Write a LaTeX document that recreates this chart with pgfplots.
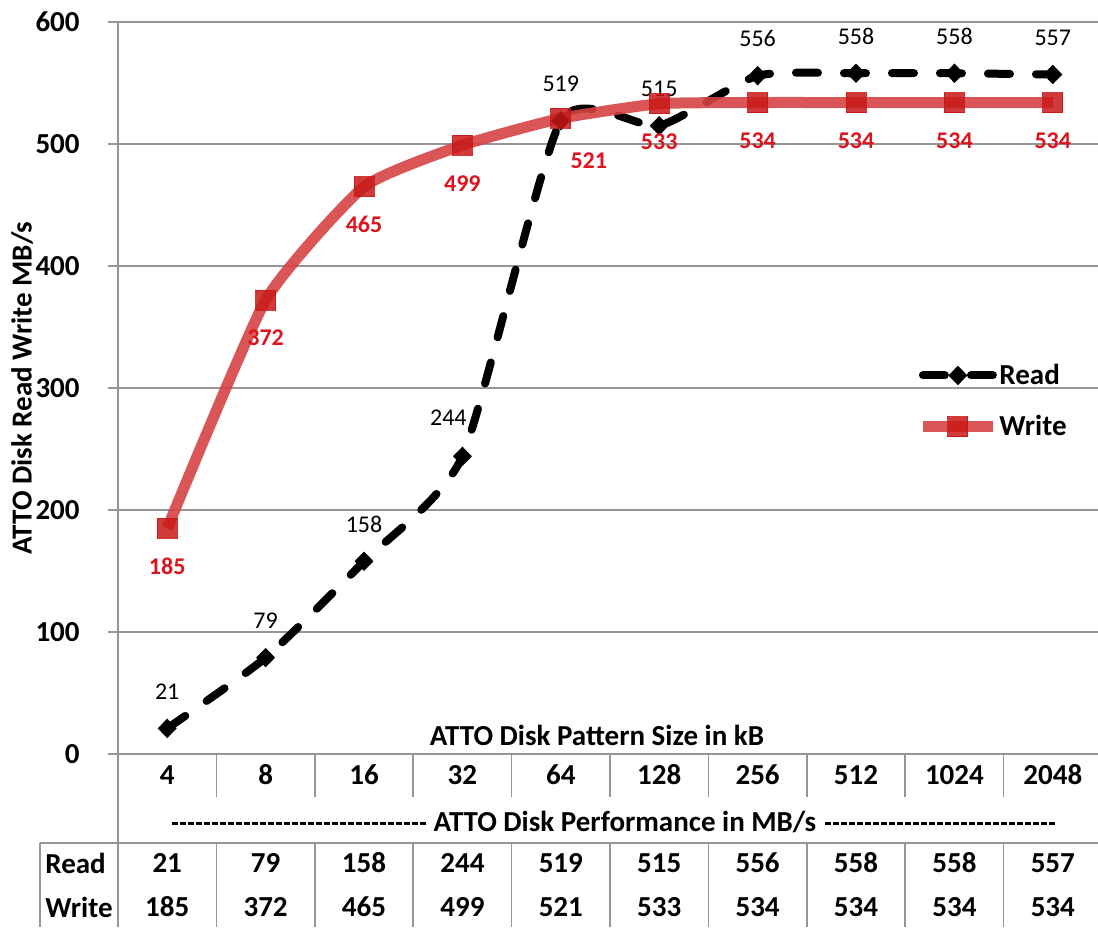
\documentclass[border=0pt]{standalone}
\usepackage{fontspec}
\setmainfont{Carlito}
\usepackage{pgfplots}
\pgfplotsset{compat=1.18}
\usepackage{pgfplotstable}

\definecolor{wline}{RGB}{214,66,66}
\definecolor{wmark}{RGB}{200,24,24}
\definecolor{wlabel}{RGB}{220,20,30}
\definecolor{gridc}{RGB}{150,150,150}
\newcommand\bfont{\bfseries\fontsize{14.5}{16}\selectfont}
\newcommand\lfont{\fontsize{12}{14}\selectfont}

\pgfplotstableread{
x y dx dy
0 21 0 18.5
1 79 0 18.5
2 158 0 18.5
3 244 -7 19.5
4 519 0 18.5
5 515 0 18.5
6 556 0 18.5
7 558 0 18.5
8 558 0 18.5
9 557 0 18.5
}\readdata

\pgfplotstableread{
x y dx dy
0 185 0 -19
1 372 0 -19
2 465 0 -19
3 499 0 -19
4 521 14 -21
5 533 0 -19
6 534 0 -19
7 534 0 -19
8 534 0 -19
9 534 0 -19
}\writedata

\begin{document}
\begin{tikzpicture}[x=0.5pt,y=-0.5pt]
\useasboundingbox (0,0) rectangle (1098,927);
\coordinate (O) at (118,754);
\begin{axis}[at={(O)}, anchor=south west, scale only axis,
  width=492pt, height=366pt, clip=false,
  xmin=-0.5, xmax=9.5, ymin=0, ymax=600,
  axis x line*=bottom, axis y line*=left,
  axis line style={gridc, line width=0.75pt},
  xtick={0,...,9}, xticklabels={4,8,16,32,64,128,256,512,1024,2048},
  xtick style={draw=none},
  ytick={0,100,...,600},
  ytick style={gridc, line width=0.75pt},
  tick align=outside, major tick length=5pt,
  ymajorgrids, major grid style={gridc, line width=0.75pt},
  /pgf/number format/assume math mode=true,
  xticklabel style={font=\bfont, anchor=center, yshift=-5.5pt, inner sep=0pt},
  yticklabel style={font=\bfont, anchor=east, inner sep=0pt, xshift=-14pt},
  legend style={draw=none, fill=none, at={(rel axis cs:0.812,0.535)}, anchor=north west,
    inner sep=0pt, row sep=13pt, font=\bfont, nodes={inner sep=0.5pt}},
  legend cell align=left,
  legend image code/.code={\draw[mark repeat=2,mark phase=2,#1] plot coordinates {(0pt,0pt) (17.5pt,0pt) (35pt,0pt)};},
]
\addplot[black, line width=4pt, dash pattern=on 11pt off 13pt, line cap=round, smooth, tension=0.35,
  mark=diamond*, mark size=4.5pt, mark options={solid, fill=black, xscale=1.3, line width=0.5pt},
  visualization depends on={\thisrow{dx} \as \dx},
  visualization depends on={\thisrow{dy} \as \dy},
  nodes near coords,
  every node near coord/.append style={anchor=center, xshift=\dx pt, yshift=\dy pt, font=\lfont, text=black, inner sep=0pt}]
  table[x=x,y=y] {\readdata};
\addlegendentry{Read}
\addplot[wline, draw opacity=0.9, line width=5.5pt, smooth, tension=0.3,
  mark=square*, mark size=5pt, mark options={fill=wmark, draw=wmark, fill opacity=0.85, draw opacity=0.85, line width=0pt},
  visualization depends on={\thisrow{dx} \as \dx},
  visualization depends on={\thisrow{dy} \as \dy},
  nodes near coords,
  every node near coord/.append style={anchor=center, xshift=\dx pt, yshift=\dy pt, font=\lfont\bfseries, text=wlabel, inner sep=0pt, opacity=1}]
  table[x=x,y=y] {\writedata};
\addlegendentry{Write}
\end{axis}

% y label and x label
\node[rotate=90, font=\bfont] at (22,388) {ATTO Disk Read Write MB/s};
\node[font=\bfont] at (597,735) {ATTO Disk Pattern Size in kB};

% table lines
\begin{scope}[gridc, line width=0.75pt]
\foreach \k in {1,...,10} {
  \draw (118+98.4*\k,754) -- (118+98.4*\k,797);
  \draw (118+98.4*\k,843) -- (118+98.4*\k,927);
}
\draw (118,754) -- (118,927);
\draw (40,843) -- (1102,843);
\draw (40,843) -- (40,927);
\end{scope}

% performance row
\node[font=\bfont] at (625,822) {ATTO Disk Performance in MB/s};
\draw[line width=1.5pt, dash pattern=on 3pt off 1pt] (172,823) -- (428,823);
\draw[line width=1.5pt, dash pattern=on 3pt off 1pt] (825,823) -- (1055,823);

% data table
\node[font=\bfont, anchor=west, inner sep=0pt] at (45,863) {Read};
\node[font=\bfont, anchor=west, inner sep=0pt] at (45,907) {Write};
\foreach \v [count=\i from 0] in {21,79,158,244,519,515,556,558,558,557}
  \node[font=\bfont] at (167.2+98.4*\i,863) {\v};
\foreach \v [count=\i from 0] in {185,372,465,499,521,533,534,534,534,534}
  \node[font=\bfont] at (167.2+98.4*\i,907) {\v};
\end{tikzpicture}
\end{document}
